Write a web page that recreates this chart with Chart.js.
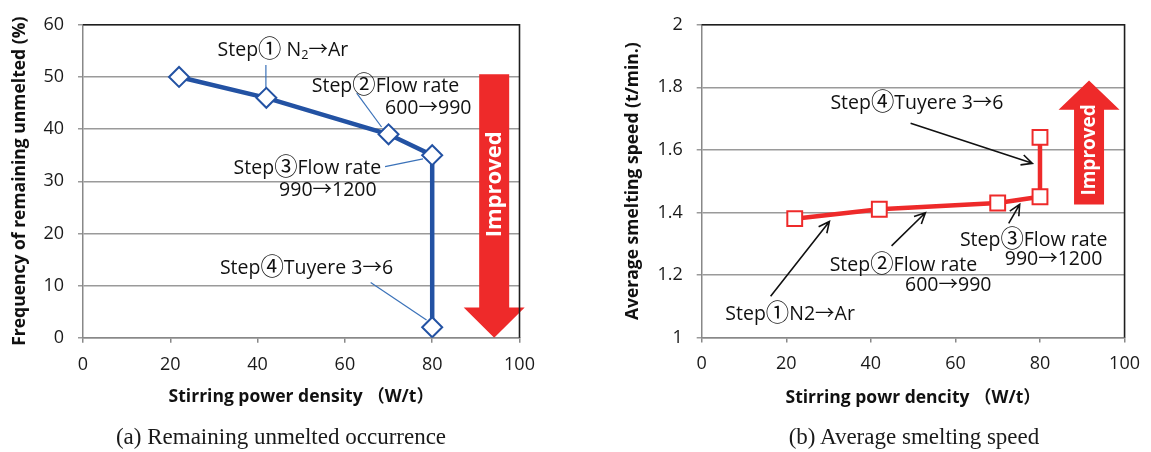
<!DOCTYPE html>
<html>
<head>
<meta charset="utf-8">
<script src="https://cdn.jsdelivr.net/npm/chart.js@4.4.0/dist/chart.umd.min.js"></script>
<style>
  body { margin: 0; background: #fff; width: 1151px; height: 452px; position: relative; overflow: hidden; }
  canvas { position: absolute; top: 0; }
  #chartA { left: 0; }
  #chartB { left: 613px; }
  .caption { position: absolute; top: 424px; transform: translateX(-50%); white-space: nowrap;
             font-family: "Liberation Serif", "Times New Roman", serif; font-size: 23px; color: #1a1a1a; }
</style>
</head>
<body>
<canvas id="chartA" width="560" height="452"></canvas>
<canvas id="chartB" width="538" height="452"></canvas>
<div class="caption" style="left:281px">(a) Remaining unmelted occurrence</div>
<div class="caption" style="left:914px">(b) Average smelting speed</div>
<script>
// stirring power density (W/t) at each step, shared by both panels
const powerDensity = [22, 42, 70, 80, 80];
// (a) frequency of remaining unmelted (%)
const unmeltedPct = [50, 46, 39, 35, 2];
// (b) average smelting speed (t/min.)
const smeltSpeed = [1.38, 1.41, 1.43, 1.45, 1.64];

const xTicks = [0, 20, 40, 60, 80, 100];
const unmeltedTicks = [0, 10, 20, 30, 40, 50, 60];
const speedTicks = [1, 1.2, 1.4, 1.6, 1.8, 2];

const stepTextA = ['Step① N_2→Ar', 'Step②Flow rate', '600→990', 'Step③Flow rate', '990→1200', 'Step④Tuyere 3→6'];
const stepTextB = ['Step①N2→Ar', 'Step②Flow rate', '600→990', 'Step③Flow rate', '990→1200', 'Step④Tuyere 3→6'];

const SANS = "'Open Sans', 'Noto Sans CJK JP', sans-serif";
const BLUE = '#2352a3';
const RED = '#ee2a2a';
const GRID = '#9a9a9a';
const NOTE_SIZE = 19.5;

// callout placement, in axis units
const notesA = {
  texts: [[45.8, 55.1, 0], [69.3, 48.2, 1], [79.1, 43.9, 2], [51.4, 32.5, 3], [56.1, 28.2, 4], [51.2, 13.3, 5]],
  leaders: [[41.9, 52.3, 41.9, 47.8], [62.7, 46.9, 68.4, 40.4], [69.2, 32.8, 77.9, 34.3], [65.9, 10.6, 78.7, 3.4]],
  arrow: { x: 94.2, tail: 50.5, headBase: 5.8, tip: 0, label: 29.4, font: 22 }
};
const notesB = {
  texts: [[50.9, 1.749, 5], [20.9, 1.073, 0], [47.7, 1.231, 1], [58.3, 1.166, 2], [78.5, 1.312, 3], [83.2, 1.249, 4]],
  pointers: [[49.4, 1.685, 78.2, 1.557], [16.3, 1.132, 30.2, 1.371], [44.9, 1.293, 52.9, 1.399], [72.6, 1.365, 75.2, 1.426]],
  arrow: { x: 91.6, tail: 1.4255, headBase: 1.7285, tip: 1.822, label: 1.6, font: 19 }
};

// text with "_2" subscripts; circled step numbers drawn a little larger
function drawRich(ctx, str, cx, cy, size) {
  const runs = [];
  str.split(/_(\d)/).forEach((p, i) => {
    if (i % 2) { runs.push({ t: p, s: size * 0.65, dy: size * 0.28 }); return; }
    p.split(/([\u2460-\u2473])/).forEach((q, j) => {
      if (q) runs.push({ t: q, s: j % 2 ? size * 1.2 : size, dy: 0 });
    });
  });
  let w = 0;
  runs.forEach(r => { ctx.font = r.s + 'px ' + SANS; r.w = ctx.measureText(r.t).width; w += r.w; });
  let x = cx - w / 2;
  ctx.textAlign = 'left';
  ctx.textBaseline = 'middle';
  runs.forEach(r => {
    ctx.font = r.s + 'px ' + SANS;
    ctx.fillText(r.t, x, cy + r.dy);
    x += r.w;
  });
}

const frameAndNotes = {
  id: 'frameAndNotes',
  beforeDatasetsDraw(chart, args, o) {
    const { ctx, scales: { x, y } } = chart;
    const px = v => x.getPixelForValue(v), py = v => y.getPixelForValue(v);
    const n = o.notes;
    ctx.save();

    // block arrow marked "Improved"
    const a = n.arrow, cx = px(a.x);
    const shaftW = 30, headW = 61;
    ctx.fillStyle = RED;
    ctx.beginPath();
    ctx.moveTo(cx - shaftW / 2, py(a.tail));
    ctx.lineTo(cx - shaftW / 2, py(a.headBase));
    ctx.lineTo(cx - headW / 2, py(a.headBase));
    ctx.lineTo(cx, py(a.tip));
    ctx.lineTo(cx + headW / 2, py(a.headBase));
    ctx.lineTo(cx + shaftW / 2, py(a.headBase));
    ctx.lineTo(cx + shaftW / 2, py(a.tail));
    ctx.closePath();
    ctx.fill();
    ctx.save();
    ctx.translate(cx, py(a.label));
    ctx.rotate(-Math.PI / 2);
    ctx.fillStyle = '#fff';
    ctx.font = 'bold ' + a.font + 'px ' + SANS;
    ctx.textAlign = 'center';
    ctx.textBaseline = 'middle';
    ctx.fillText('Improved', 0, 1);
    ctx.restore();

    // thin leader lines
    ctx.strokeStyle = '#3b72b9';
    ctx.lineWidth = 1.2;
    (n.leaders || []).forEach(l => {
      ctx.beginPath();
      ctx.moveTo(px(l[0]), py(l[1]));
      ctx.lineTo(px(l[2]), py(l[3]));
      ctx.stroke();
    });

    // black pointer arrows
    ctx.strokeStyle = '#111';
    ctx.lineWidth = 1.6;
    (n.pointers || []).forEach(l => {
      const x1 = px(l[0]), y1 = py(l[1]), x2 = px(l[2]), y2 = py(l[3]);
      const ang = Math.atan2(y2 - y1, x2 - x1), hl = 12, spread = 0.45;
      ctx.beginPath();
      ctx.moveTo(x1, y1);
      ctx.lineTo(x2, y2);
      ctx.moveTo(x2 - hl * Math.cos(ang - spread), y2 - hl * Math.sin(ang - spread));
      ctx.lineTo(x2, y2);
      ctx.lineTo(x2 - hl * Math.cos(ang + spread), y2 - hl * Math.sin(ang + spread));
      ctx.stroke();
    });

    ctx.fillStyle = '#111';
    n.texts.forEach(t => drawRich(ctx, o.labels[t[2]], px(t[0]), py(t[1]), NOTE_SIZE));
    ctx.restore();
  },
  afterDatasetsDraw(chart) {
    const { ctx, chartArea: c } = chart;
    ctx.save();
    ctx.strokeStyle = '#1e1e1e';
    ctx.lineWidth = 1.6;
    ctx.beginPath();
    ctx.moveTo(c.left, c.top);
    ctx.lineTo(c.right, c.top);
    ctx.lineTo(c.right, c.bottom);
    ctx.stroke();
    ctx.restore();
  }
};

function makeChart(id, cfg) {
  const points = powerDensity.map((v, i) => ({ x: v, y: cfg.values[i] }));
  return new Chart(document.getElementById(id), {
    type: 'scatter',
    data: {
      datasets: [{
        data: points,
        showLine: true,
        borderColor: cfg.color,
        borderWidth: 4.5,
        pointStyle: cfg.marker,
        pointRadius: cfg.radius,
        pointHoverRadius: cfg.radius,
        pointBorderWidth: 2,
        pointBorderColor: cfg.color,
        pointBackgroundColor: '#fff'
      }]
    },
    options: {
      responsive: false,
      animation: false,
      events: [],
      layout: { padding: { top: 16, left: 0, right: cfg.padRight, bottom: cfg.padBottom } },
      plugins: {
        legend: { display: false },
        tooltip: { enabled: false },
        frameAndNotes: { notes: cfg.notes, labels: cfg.labels }
      },
      scales: {
        x: {
          type: 'linear', min: 0, max: 100,
          afterBuildTicks: s => { s.ticks = xTicks.map(v => ({ value: v })); },
          afterFit: s => { s.height = 80; },
          border: { color: '#888', width: 1.5 },
          grid: { drawOnChartArea: false, tickLength: 5, color: '#888', lineWidth: 1.5 },
          ticks: { padding: 11, color: '#1a1a1a', font: { family: SANS, size: 18 } },
          title: { display: true, text: cfg.xTitle, color: '#111',
                   font: { family: SANS, size: 17.5, weight: 'bold' }, padding: { top: 0, bottom: cfg.xTitlePad } }
        },
        y: {
          type: 'linear', min: cfg.yTicks[0], max: cfg.yTicks[cfg.yTicks.length - 1],
          afterBuildTicks: s => { s.ticks = cfg.yTicks.map(v => ({ value: v })); },
          afterFit: s => { s.width = cfg.yWidth; },
          border: { color: '#888', width: 1.5 },
          grid: { color: GRID, lineWidth: 1.5, tickLength: 5 },
          ticks: { padding: 14, color: '#1a1a1a', font: { family: SANS, size: 18 },
                   callback: v => String(v) },
          title: { display: true, text: cfg.yTitle, color: '#111',
                   font: { family: SANS, size: 17.5, weight: 'bold' }, padding: { top: 9.5, bottom: 0 } }
        }
      }
    },
    plugins: [frameAndNotes]
  });
}

makeChart('chartA', {
  values: unmeltedPct, yTicks: unmeltedTicks, color: BLUE, marker: 'rectRot', radius: 10,
  yWidth: 83, padRight: 40.5, padBottom: 34.3, xTitlePad: 10.2,
  xTitle: 'Stirring power density （W/t）', yTitle: 'Frequency of remaining unmelted (%)',
  notes: notesA, labels: stepTextA
});

makeChart('chartB', {
  values: smeltSpeed, yTicks: speedTicks, color: RED, marker: 'rect', radius: 10.5,
  yWidth: 88.7, padRight: 18.5, padBottom: 34.5, xTitlePad: 9,
  xTitle: 'Stirring powr dencity （W/t）', yTitle: 'Average smelting speed (t/min.)',
  notes: notesB, labels: stepTextB
});
</script>
</body>
</html>
